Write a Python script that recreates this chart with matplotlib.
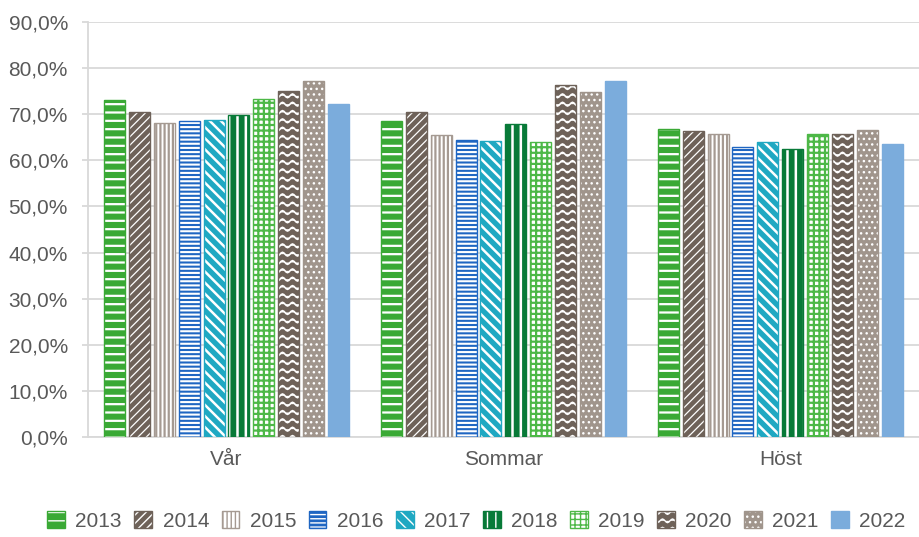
import matplotlib
matplotlib.use("Agg")
import matplotlib.pyplot as plt
import matplotlib.hatch as mhatch
from matplotlib.path import Path
import numpy as np
from matplotlib.ticker import FuncFormatter, MultipleLocator

plt.rcParams['font.family'] = ['Liberation Sans', 'DejaVu Sans']


# custom wavy hatch ('~') to imitate the Excel wave pattern
class WaveHatch(mhatch.HatchPatternBase):
    def __init__(self, hatch, density):
        self.num_lines = int(hatch.count('~') * density)
        self.nper = 10
        self.spp = 8
        self.npts = self.nper * self.spp + 1
        self.num_vertices = self.num_lines * self.npts

    def set_vertices_and_codes(self, vertices, codes):
        t = np.linspace(0, 1, self.npts)
        amp = 0.22 / max(self.num_lines, 1)
        for i in range(self.num_lines):
            y0 = (i + 0.5) / self.num_lines
            sl = slice(i * self.npts, (i + 1) * self.npts)
            vertices[sl, 0] = t
            vertices[sl, 1] = y0 + amp * np.sin(2 * np.pi * self.nper * t)
            codes[sl] = Path.LINETO
            codes[i * self.npts] = Path.MOVETO


mhatch._hatch_types.append(WaveHatch)
if hasattr(mhatch, '_validate_hatch_pattern'):
    mhatch._validate_hatch_pattern = lambda h: None

categories = ["Vår", "Sommar", "Höst"]
years = ["2013", "2014", "2015", "2016", "2017", "2018", "2019", "2020", "2021", "2022"]
values = {
    "2013": [73.1, 68.5, 66.8],
    "2014": [70.4, 70.4, 66.3],
    "2015": [68.2, 65.6, 65.7],
    "2016": [68.5, 64.4, 62.9],
    "2017": [68.7, 64.1, 64.0],
    "2018": [69.8, 67.9, 62.4],
    "2019": [73.2, 64.0, 65.7],
    "2020": [75.1, 76.3, 65.7],
    "2021": [77.1, 74.8, 66.6],
    "2022": [72.2, 77.1, 63.6],
}

# style: (facecolor, hatchcolor, hatch, outline colour, hatch linewidth)
styles = {
    "2013": ("#3AA935", "white", "--", "#3AA935", 1.6),
    "2014": ("#6E6259", "white", "////", "#6E6259", 0.9),
    "2015": ("white", "#A59A92", "||||", "#A59A92", 1.6),
    "2016": ("#1F66C2", "white", "----", "#1F66C2", 1.5),
    "2017": ("#1FA8C2", "white", "\\\\\\", "#1FA8C2", 1.8),
    "2018": ("#087A38", "white", "||", "#087A38", 1.8),
    "2019": ("white", "#4DB847", "+++", "#4DB847", 1.6),
    "2020": ("#6E6259", "white", "~~", "#6E6259", 1.2),
    "2021": ("#A0958C", "white", "...", "#A0958C", 1.0),
    "2022": ("#7BACDC", "#7BACDC", "", "#7BACDC", 1.0),
}

fig = plt.figure(figsize=(9.19, 5.37), dpi=100)
ax = fig.add_axes([0.0958, 0.1862, 0.904, 0.7728])

x = np.arange(len(categories))
slot = 0.09
bw = 0.076
handles = []
for i, yr in enumerate(years):
    fc, hc, hatch, oc, hlw = styles[yr]
    pos = x + (i - 4.5) * slot
    with plt.rc_context({'hatch.linewidth': hlw}):
        b = ax.bar(pos, values[yr], width=bw, color=fc, edgecolor=hc,
                   hatch=hatch, linewidth=0, zorder=3, label=yr)
    o = ax.bar(pos, values[yr], width=bw, fill=False, edgecolor=oc,
               linewidth=1.0, zorder=4)
    handles.append((b, o))

ax.set_xlim(-0.5, 2.5)
ax.set_ylim(0, 90)
ax.yaxis.set_major_locator(MultipleLocator(10))
ax.yaxis.set_major_formatter(FuncFormatter(lambda v, p: f"{v:.1f}%".replace(".", ",")))
ax.set_xticks(x)
ax.set_xticklabels(categories)
ax.grid(axis='y', color='#D9D9D9', linewidth=1.3, zorder=0)
ax.set_axisbelow(True)
for s in ['top', 'right']:
    ax.spines[s].set_visible(False)
ax.spines['left'].set_color('#D9D9D9')
ax.spines['bottom'].set_color('#D9D9D9')
ax.spines['left'].set_linewidth(1.3)
ax.spines['bottom'].set_linewidth(1.3)
ax.tick_params(axis='y', colors='#D9D9D9', labelcolor='#595959', labelsize=15,
               length=4.5, width=1.3, pad=10)
ax.tick_params(axis='x', length=0, labelcolor='#595959', labelsize=15, pad=9.5)

leg = fig.legend(handles=handles, labels=years, loc='center', bbox_to_anchor=(0.5185, 0.030),
                 ncol=10, frameon=False, fontsize=15, handlelength=0.85, handleheight=0.85,
                 handletextpad=0.5, columnspacing=0.6, labelcolor='#595959')

fig.savefig("out.png", dpi=100)
